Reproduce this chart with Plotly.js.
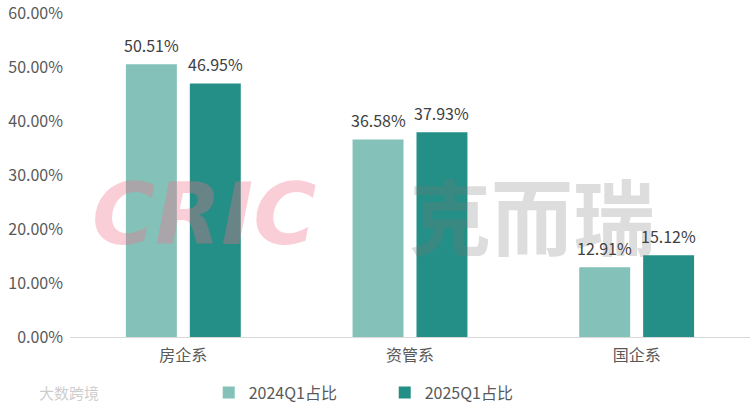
<!DOCTYPE html>
<html>
<head>
<meta charset="utf-8">
<script src="https://cdn.plot.ly/plotly-3.0.1.min.js"></script>
<style>html,body{margin:0;padding:0;background:#fff;}#chart{width:754px;height:408px;}</style>
</head>
<body>
<div id="chart"></div>
<script>
const categories = ['房企系', '资管系', '国企系'];
const series2024 = [50.51, 36.58, 12.91];
const series2025 = [46.95, 37.93, 15.12];
const seriesNames = ['2024Q1占比', '2025Q1占比'];
const yTicks = [0, 10, 20, 30, 40, 50, 60];

const font = '"Noto Sans CJK SC", "Noto Sans", sans-serif';
const fmt = v => v.toFixed(2) + '%';

const traces = [
  {type:'bar', name:seriesNames[0], x:categories, y:series2024,
   marker:{color:'#84C1B9'}, hoverinfo:'none'},
  {type:'bar', name:seriesNames[1], x:categories, y:series2025,
   marker:{color:'#248F86'}, hoverinfo:'none'}
];

const off = 0.141;
const labelAnns = [];
[series2024, series2025].forEach((s, si) => {
  s.forEach((v, i) => {
    labelAnns.push({x: i + (si === 0 ? -off : off), y: v, xref:'x', yref:'y',
      text: fmt(v), showarrow:false, yanchor:'bottom', yshift:5,
      font:{family:font, size:16, color:'#404040'}});
  });
});

const layout = {
  width:754, height:408,
  margin:{l:70, r:4, t:13, b:71},
  paper_bgcolor:'#fff', plot_bgcolor:'#fff',
  font:{family:font, color:'#595959', size:16},
  barmode:'group', bargap:0.436, bargroupgap:0.203,
  showlegend:true,
  legend:{orientation:'h', x:0.204, xanchor:'left', xref:'paper', yref:'container', y:0.038, yanchor:'middle',
          font:{family:font, size:16, color:'#595959'}, traceorder:'normal', entrywidth:131, entrywidthmode:'pixels'},
  xaxis:{showgrid:false, showline:true, linecolor:'#d9d9d9', linewidth:1, ticks:'',
         tickfont:{family:font, size:16, color:'#595959'}, automargin:false, ticklabelstandoff:4},
  yaxis:{range:[0,60], tickvals:yTicks, ticktext:yTicks.map(v=>v.toFixed(2)+'%'),
         showgrid:false, zeroline:false, showline:false, ticks:'', automargin:false,
         ticklabeloverflow:'allow',
         tickfont:{family:font, size:16, color:'#595959'}, ticklabelstandoff:6},
  annotations:[
    {text:'<b><i>CRIC</i></b>', xref:'paper', yref:'paper', x:0.03, y:0.38, xanchor:'left', yanchor:'middle',
     showarrow:false, font:{family:'"DejaVu Sans", sans-serif', size:86, color:'rgba(240,110,135,0.34)'}},
    {text:'<b>克而瑞</b>', xref:'paper', yref:'paper', x:0.495, y:0.38, xanchor:'left', yanchor:'middle',
     showarrow:false, font:{family:'"Noto Sans CJK SC", sans-serif', size:82, color:'rgba(120,120,120,0.25)'}},
    {text:'大数跨境', xref:'paper', yref:'paper', x:-0.048, y:-0.17, xanchor:'left', yanchor:'middle',
     showarrow:false, font:{family:font, size:15, color:'rgba(170,170,170,0.6)'}}
  ].concat(labelAnns)
};

Plotly.newPlot('chart', traces, layout, {displayModeBar:false, staticPlot:true});
</script>
</body>
</html>
